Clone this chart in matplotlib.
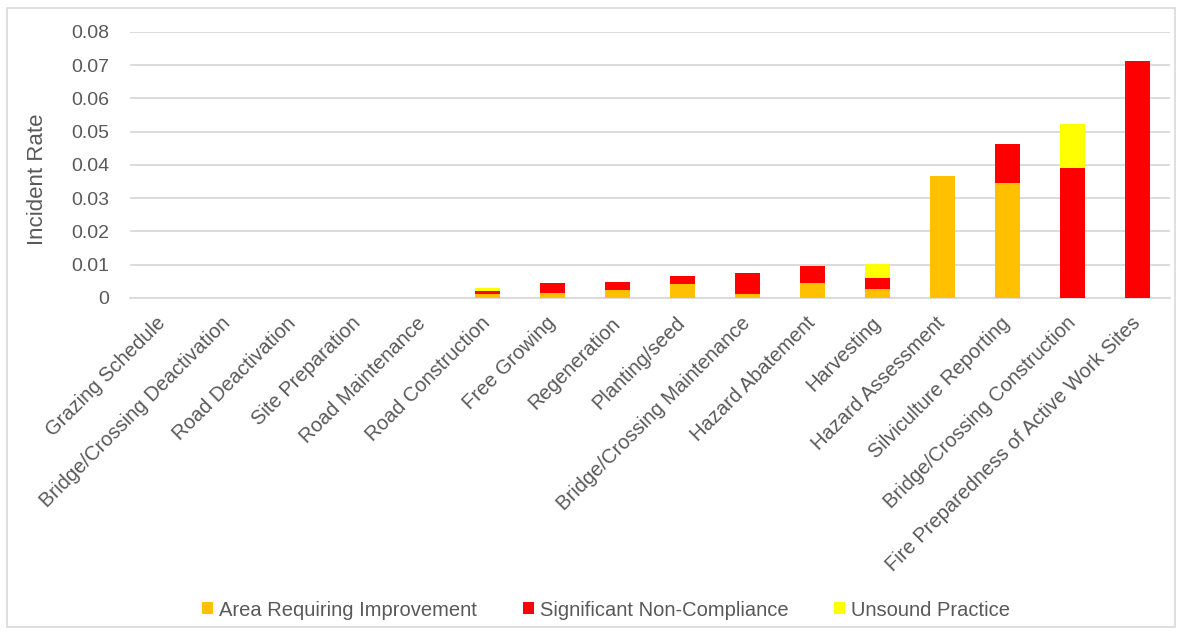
import matplotlib
matplotlib.use("Agg")
import matplotlib.pyplot as plt
from matplotlib.patches import Rectangle
import numpy as np

plt.rcParams['font.family'] = ['Liberation Sans', 'DejaVu Sans']

categories = ["Grazing Schedule", "Bridge/Crossing Deactivation", "Road Deactivation",
              "Site Preparation", "Road Maintenance", "Road Construction", "Free Growing",
              "Regeneration", "Planting/seed", "Bridge/Crossing Maintenance",
              "Hazard Abatement", "Harvesting", "Hazard Assessment",
              "Silviculture Reporting", "Bridge/Crossing Construction",
              "Fire Preparedness of Active Work Sites"]
area_improvement = [0, 0, 0, 0, 0, 0.0011, 0.0015, 0.0023, 0.0043, 0.0011,
                    0.0046, 0.0027, 0.0366, 0.0347, 0, 0]
significant_nc = [0, 0, 0, 0, 0, 0.0009, 0.0029, 0.0024, 0.0024, 0.0065,
                  0.0050, 0.0032, 0, 0.0116, 0.0392, 0.0712]
unsound = [0, 0, 0, 0, 0, 0.0010, 0, 0, 0, 0,
           0, 0.0042, 0, 0, 0.0131, 0]
yticks = [0, 0.01, 0.02, 0.03, 0.04, 0.05, 0.06, 0.07, 0.08]
ytick_labels = ["0", "0.01", "0.02", "0.03", "0.04", "0.05", "0.06", "0.07", "0.08"]

fig = plt.figure(figsize=(11.82, 6.34), dpi=100)
ax = fig.add_axes([130/1182, 1-298/634, 1040/1182, 266/634])

x = np.arange(len(categories))
w = 0.385
a = np.array(area_improvement)
s = np.array(significant_nc)
u = np.array(unsound)
ax.bar(x, a, w, color="#FFC000", label="Area Requiring Improvement", zorder=3)
ax.bar(x, s, w, bottom=a, color="#FF0000", label="Significant Non-Compliance", zorder=3)
ax.bar(x, u, w, bottom=a + s, color="#FFFF00", label="Unsound Practice", zorder=3)

ax.set_xlim(-0.5, len(categories) - 0.5)
ax.set_ylim(0, 0.08)
ax.set_yticks(yticks)
ax.set_yticklabels(ytick_labels)
ax.yaxis.grid(True, color="#D9D9D9", linewidth=1.3, zorder=0)
ax.set_axisbelow(True)
for sp in ["top", "right", "left"]:
    ax.spines[sp].set_visible(False)
ax.spines["bottom"].set_color("#D9D9D9")
ax.spines["bottom"].set_linewidth(1.3)
ax.tick_params(axis="y", length=0, pad=15, labelsize=14, labelcolor="#595959")
ax.tick_params(axis="x", length=0, pad=16, labelsize=14.5, labelcolor="#595959")
ax.set_xticks(x)
ax.set_xticklabels(categories, rotation=45, ha="right", va="center", rotation_mode="anchor")
ax.set_ylabel("Incident Rate", fontsize=16, color="#595959")
ax.yaxis.set_label_coords((48-130)/1040, (298-179)/266)

leg = fig.legend(loc="center", bbox_to_anchor=(606/1182, 1-610/634), ncol=3, frameon=False,
                 fontsize=14.5, handlelength=0.55, handleheight=0.55, columnspacing=2.25,
                 handletextpad=0.3)
for t in leg.get_texts():
    t.set_color("#595959")

fig.patches.append(Rectangle((7/1182, 1-627/634), 1168/1182, 619/634, transform=fig.transFigure,
                             fill=False, edgecolor="#D9D9D9", linewidth=1.2))

fig.savefig("out.png", dpi=100, facecolor="white")
